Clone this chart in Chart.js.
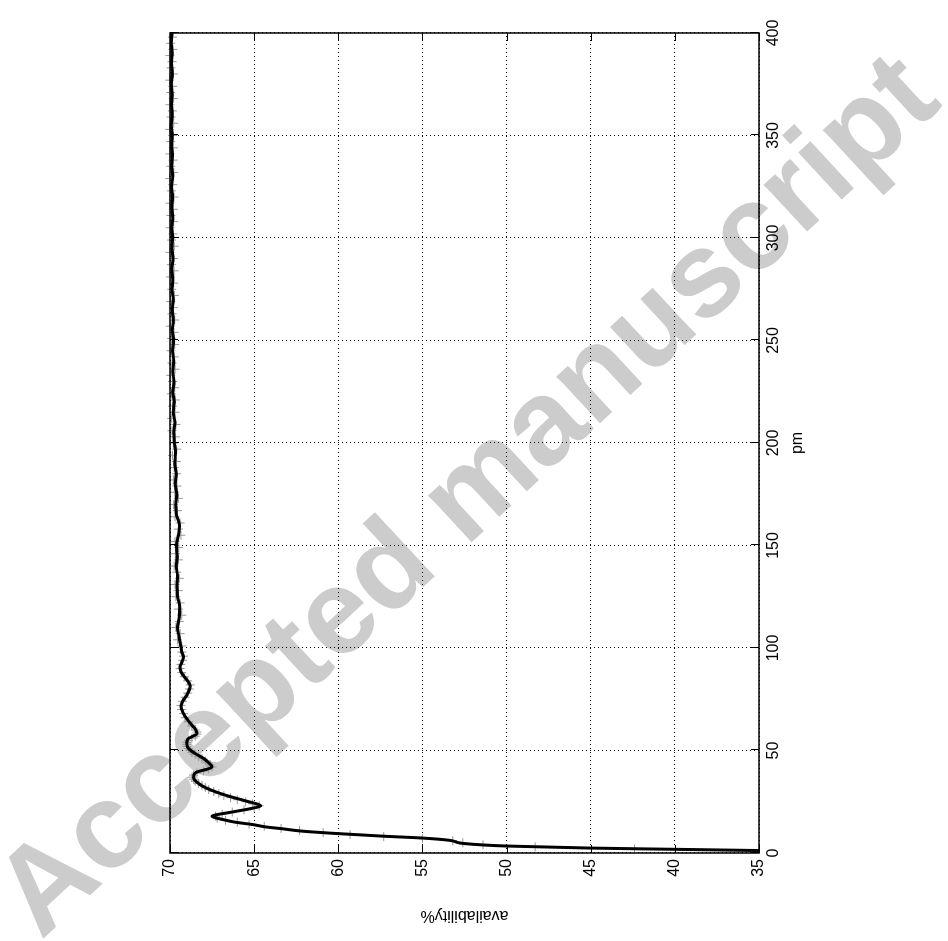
<!DOCTYPE html>
<html>
<head>
<meta charset="utf-8">
<script src="https://cdn.jsdelivr.net/npm/chart.js@4"></script>
<style>
  body { margin: 0; background: #fff; width: 948px; height: 941px; overflow: hidden; position: relative; }
  #mark {
    position: absolute; left: 464px; top: 492px;
    transform: translate(-50%, -50%) rotate(-42.8deg);
    font: bold 121px "Liberation Sans", Arial, sans-serif;
    color: #cccccc; white-space: nowrap;
  }
  /* the plot is drawn upright, then turned a quarter turn to the left */
  #wrap {
    position: absolute; left: 0; top: 0; width: 941px; height: 948px;
    transform-origin: 0 0; transform: translate(0, 941px) rotate(-90deg);
  }
</style>
</head>
<body>
<div id="mark">Accepted manuscript</div>
<div id="wrap"><canvas id="availChart" width="941" height="948"></canvas></div>
<script>
// smoothed curve
const linePm = [
  1.2, 1.8, 2.4, 3.4, 4.6, 6.2, 7.3, 8.2, 9.5, 10.7,
  11.9, 12.7, 13.9, 15.0, 16.2, 17.9, 20.0, 21.5, 23.0, 25.4,
  28.2, 31.9, 34.5, 36.8, 39.1, 42.0, 44.0, 46.1, 48.5, 51.0,
  53.5, 55.5, 58.3, 60.5, 62.4, 65.5, 68.1, 71.5, 74.0, 77.0,
  81.5, 84.5, 86.0, 88.5, 90.8, 93.0, 95.7, 98.0, 100.6,
  105, 110, 115, 120, 125, 130, 135, 140, 145, 150,
  155, 160, 165, 170, 175, 180, 185, 190, 195, 200,
  205, 210, 215, 220, 225, 230, 235, 240, 245, 250,
  255, 260, 265, 270, 275, 280, 285, 290, 295, 300,
  305, 310, 315, 320, 325, 330, 335, 340, 345, 350,
  355, 360, 365, 370, 375, 380, 385, 390, 395, 400
];
const lineAvail = [
  35.0, 40.0, 45.0, 50.0, 52.5, 53.4, 55.0, 57.3, 60.1, 62.2,
  63.4, 64.3, 65.1, 66.1, 66.8, 67.5, 66.3, 65.3, 64.6, 65.5,
  66.7, 67.9, 68.4, 68.6, 68.5, 67.5, 67.7, 68.0, 68.5, 68.9,
  69.0, 68.95, 68.4, 68.5, 68.7, 69.0, 69.2, 69.35, 69.25, 69.0,
  68.8, 69.0, 69.15, 69.35, 69.4, 69.3, 69.2, 69.3, 69.35,
  69.45, 69.55, 69.45, 69.42, 69.55, 69.58, 69.55, 69.63, 69.57, 69.62,
  69.5, 69.44, 69.62, 69.66, 69.6, 69.69, 69.63, 69.72, 69.67, 69.74,
  69.78, 69.71, 69.8, 69.75, 69.83, 69.76, 69.84, 69.78, 69.85, 69.79,
  69.86, 69.8, 69.87, 69.81, 69.88, 69.83, 69.89, 69.82, 69.88, 69.84,
  69.9, 69.83, 69.89, 69.85, 69.91, 69.84, 69.9, 69.85, 69.91, 69.86,
  69.92, 69.86, 69.91, 69.87, 69.92, 69.86, 69.91, 69.87, 69.92, 69.88
];

// raw samples (grey crosses)
const markPm = [
  2, 3, 4, 5, 6, 7, 8, 9, 10,
  11, 12, 13, 14, 15, 16, 17, 18, 19, 20,
  21, 22, 23, 24, 25, 26, 27, 28, 29, 30,
  31, 32, 33, 34, 35, 36, 37, 38, 39, 40,
  41, 42, 43, 44, 45, 46, 47, 48, 49, 50,
  51, 52, 53, 54, 55, 56, 57, 58, 59, 60,
  62, 64, 66, 68, 70, 72, 74, 76, 78, 80,
  82, 84, 86, 88, 90, 92, 94, 96, 98,
  101, 104, 107, 110, 113, 116, 119, 122, 125, 128,
  131, 134, 137, 140, 143, 146, 149, 152, 155, 158,
  161, 164, 167, 170, 173, 176, 179, 182, 185, 188,
  191, 194, 197, 200, 203, 206, 209, 212, 215, 218,
  221, 224, 227, 230, 233, 236, 239, 242, 245, 248,
  251, 254, 257, 260, 263, 266, 269, 272, 275, 278,
  281, 284, 287, 290, 293, 296, 299, 302, 305, 308,
  311, 314, 317, 320, 323, 326, 329, 332, 335, 338,
  341, 344, 347, 350, 353, 356, 359, 362, 365, 368,
  371, 374, 377, 380, 383, 386, 389, 392, 395, 398
];
const markAvail = [
  42.4, 48.3, 51.4, 52.6, 53.2, 55.0, 57.3, 59.3, 60.9,
  62.3, 63.4, 64.4, 65.3, 66.0, 66.7, 67.2, 67.3, 66.9, 66.3,
  65.6, 65.0, 64.7, 65.1, 65.5, 66.0, 66.4, 66.8, 67.1, 67.4,
  67.7, 67.9, 68.1, 68.3, 68.5, 68.6, 68.7, 68.6, 68.4, 68.0,
  67.7, 67.5, 67.6, 67.8, 67.9, 68.1, 68.3, 68.5, 68.7, 68.8,
  68.9, 69.0, 69.0, 69.0, 68.9, 68.7, 68.5, 68.4, 68.4, 68.5,
  68.7, 68.9, 69.1, 69.2, 69.3, 69.35, 69.25, 69.1, 68.95, 68.85,
  68.8, 68.95, 69.15, 69.3, 69.4, 69.35, 69.25, 69.2, 69.3,
  69.3, 69.55, 69.4, 69.65, 69.45, 69.3, 69.5, 69.4, 69.65, 69.5,
  69.7, 69.45, 69.6, 69.75, 69.5, 69.68, 69.48, 69.7, 69.35, 69.5,
  69.4, 69.7, 69.55, 69.78, 69.5, 69.72, 69.58, 69.8, 69.6, 69.75,
  69.62, 69.85, 69.6, 69.8, 69.68, 69.88, 69.65, 69.9, 69.7, 69.85,
  69.68, 69.92, 69.72, 69.85, 69.95, 69.7, 69.88, 69.75, 69.95, 69.72,
  69.9, 69.76, 69.98, 69.72, 69.88, 69.8, 69.96, 69.74, 69.9, 69.78,
  69.98, 69.76, 69.92, 69.8, 70.0, 69.75, 69.9, 69.82, 69.98, 69.78,
  69.95, 69.8, 70.0, 69.76, 69.92, 69.84, 70.02, 69.78, 69.95, 69.82,
  70.0, 69.8, 69.96, 69.84, 70.02, 69.78, 69.94, 69.86, 70.0, 69.8,
  69.96, 69.84, 70.02, 69.8, 69.94, 69.88, 70.0, 69.82, 69.96, 69.86
];

const labelFont = { family: "'Liberation Sans', Arial, sans-serif", size: 16 };

// solid frame plus inward ticks on all four sides, like gnuplot
const framePlugin = {
  id: "frame",
  afterDraw(chart) {
    const { ctx, chartArea: a, scales } = chart;
    const len = 8;
    ctx.save();
    ctx.strokeStyle = "#000";
    ctx.lineWidth = 1;
    ctx.beginPath();
    scales.x.ticks.forEach((t) => {
      const px = Math.round(scales.x.getPixelForValue(t.value)) + 0.5;
      ctx.moveTo(px, a.bottom); ctx.lineTo(px, a.bottom - len);
      ctx.moveTo(px, a.top); ctx.lineTo(px, a.top + len);
    });
    scales.y.ticks.forEach((t) => {
      const py = Math.round(scales.y.getPixelForValue(t.value)) + 0.5;
      ctx.moveTo(a.left, py); ctx.lineTo(a.left + len, py);
      ctx.moveTo(a.right, py); ctx.lineTo(a.right - len, py);
    });
    ctx.stroke();
    ctx.lineWidth = 1.5;
    ctx.strokeRect(a.left, a.top, a.right - a.left, a.bottom - a.top);
    ctx.restore();
  },
};

new Chart(document.getElementById("availChart").getContext("2d"), {
  type: "scatter",
  data: {
    datasets: [
      {
        data: linePm.map((p, i) => ({ x: p, y: lineAvail[i] })),
        showLine: true,
        borderColor: "#000",
        borderWidth: 3,
        pointRadius: 0,
        cubicInterpolationMode: "monotone",
      },
      {
        data: markPm.map((p, i) => ({ x: p, y: markAvail[i] })),
        showLine: false,
        clip: false,
        pointStyle: "cross",
        pointRadius: 4.5,
        pointBorderWidth: 1,
        borderColor: "#999999",
        backgroundColor: "#999999",
      },
    ],
  },
  options: {
    responsive: false,
    animation: false,
    devicePixelRatio: 1,
    layout: { padding: { left: 0, right: 33, top: 170, bottom: 0 } },
    plugins: { legend: { display: false }, tooltip: { enabled: false } },
    scales: {
      x: {
        type: "linear",
        min: 0,
        max: 400,
        ticks: { stepSize: 50, padding: 5, color: "#000", font: labelFont, maxRotation: 0, autoSkip: false },
        grid: { color: "#000", lineWidth: 1, drawTicks: false },
        border: { display: false, dash: [1, 3] },
        title: { display: true, text: "pm", color: "#000", font: labelFont, padding: { top: 0, bottom: 141 } },
        afterFit(scale) { scale.height = 189; },
      },
      y: {
        type: "linear",
        min: 35,
        max: 70,
        ticks: { stepSize: 5, padding: 6, color: "#000", font: labelFont },
        grid: { color: "#000", lineWidth: 1, drawTicks: false },
        border: { display: false, dash: [1, 3] },
        title: { display: true, text: "availability%", color: "#000", font: labelFont, padding: { top: 16, bottom: 0 } },
        afterFit(scale) { scale.width = 88; },
      },
    },
  },
  plugins: [framePlugin],
});
</script>
</body>
</html>
